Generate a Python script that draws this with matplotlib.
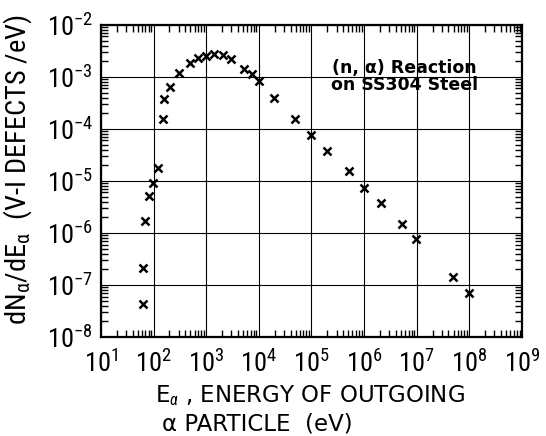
import math
import matplotlib
matplotlib.use("Agg")
import matplotlib.pyplot as plt
from matplotlib import font_manager
from matplotlib.ticker import LogLocator, FuncFormatter, NullFormatter

energy_ev = [62, 64, 69, 83, 99, 121, 149, 160, 205, 304, 492, 708, 990,
             1426, 2060, 2960, 5240, 7330, 9950, 19700, 49400, 1.0e5, 1.96e5,
             5.1e5, 1.01e6, 2.08e6, 5.35e6, 9.7e6, 4.99e7, 1.0e8]
dn_de = [4.4e-8, 2.15e-7, 1.7e-6, 5.2e-6, 9.3e-6, 1.75e-5, 1.58e-4, 3.7e-4,
         6.5e-4, 1.18e-3, 1.83e-3, 2.29e-3, 2.57e-3, 2.74e-3, 2.65e-3, 2.22e-3,
         1.43e-3, 1.13e-3, 8.5e-4, 3.9e-4, 1.56e-4, 7.6e-5, 3.8e-5, 1.52e-5,
         7.4e-6, 3.7e-6, 1.49e-6, 7.6e-7, 1.45e-7, 6.9e-8]

x_range = (1e1, 1e9)
y_range = (1e-8, 1e-2)
note = "(n, \u03b1) Reaction\non SS304 Steel"


def pick_font(names):
    for n in names:
        try:
            font_manager.findfont(font_manager.FontProperties(family=n),
                                  fallback_to_default=False)
            return n
        except Exception:
            pass
    return 'DejaVu Sans'


main_font = pick_font(['Liberation Sans Narrow', 'DejaVu Sans Condensed',
                       'Roboto Condensed', 'Liberation Sans', 'Roboto'])
narrow = main_font in ('Liberation Sans Narrow', 'DejaVu Sans Condensed',
                       'Roboto Condensed')
plt.rcParams['font.family'] = [main_font, 'DejaVu Sans']
plt.rcParams['mathtext.fontset'] = 'custom'
plt.rcParams['mathtext.rm'] = main_font
plt.rcParams['mathtext.it'] = main_font + ':italic'

tick_size = 19 if narrow else 18
label_size = 20.5 if narrow else 17

fig = plt.figure(figsize=(5.46, 4.36), dpi=100)
ax = fig.add_axes([0.185, 0.227, 0.771, 0.716])

ax.plot(energy_ev, dn_de, linestyle='none', marker='x', color='black',
        markersize=6, markeredgewidth=1.8)

ax.set_xscale('log')
ax.set_yscale('log')
ax.set_xlim(*x_range)
ax.set_ylim(*y_range)

ax.xaxis.set_major_locator(LogLocator(base=10, numticks=20))
ax.yaxis.set_major_locator(LogLocator(base=10, numticks=20))
ax.xaxis.set_minor_locator(LogLocator(base=10, subs=range(2, 10), numticks=20))
ax.yaxis.set_minor_locator(LogLocator(base=10, subs=range(2, 10), numticks=20))


def decade(v, pos):
    return r'$\mathregular{10^{%d}}$' % round(math.log10(v))


ax.xaxis.set_major_formatter(FuncFormatter(decade))
ax.yaxis.set_major_formatter(FuncFormatter(decade))
ax.xaxis.set_minor_formatter(NullFormatter())
ax.yaxis.set_minor_formatter(NullFormatter())

ax.tick_params(which='both', direction='in', top=True, right=True,
               colors='black', labelsize=tick_size, width=1)
ax.tick_params(which='major', length=0)
ax.tick_params(axis='x', which='major', pad=9)
ax.tick_params(axis='y', which='major', pad=6)
ax.tick_params(which='minor', length=5)

ax.grid(True, which='major', color='black', linewidth=0.8)
for sp in ax.spines.values():
    sp.set_linewidth(1.6)

ax.set_ylabel(r'dN$_{\mathregular{\alpha}}$/dE$_{\mathregular{\alpha}}$  (V-I DEFECTS /eV)',
              fontsize=label_size)
ax.yaxis.set_label_coords(-0.158, 0.535)

wide = ['DejaVu Sans']
fig.text(0.284, 0.121, 'E$_{\\alpha}$ , ENERGY OF OUTGOING', fontsize=16.5,
         family=wide, ha='left', va='top')
fig.text(0.297, 0.054, '\u03b1 PARTICLE  (eV)', fontsize=16.5,
         family=wide, ha='left', va='top')

ax.text(0.72, 0.835, note, transform=ax.transAxes, ha='center', va='center',
        fontsize=12.5, fontweight='bold', family=wide, linespacing=0.95)

fig.savefig('out.png', dpi=100)
